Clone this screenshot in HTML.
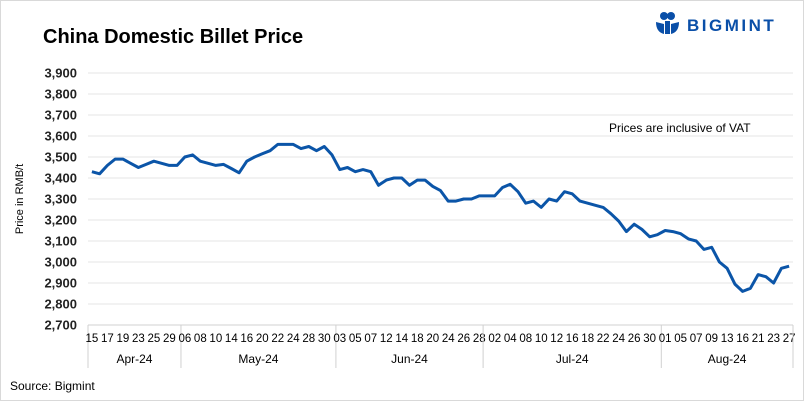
<!DOCTYPE html>
<html><head><meta charset="utf-8">
<style>
body{margin:0;background:#fff;}
#wrap{position:relative;width:802px;height:399px;border:1px solid #d9d9d9;background:#fff;font-family:"Liberation Sans",sans-serif;overflow:hidden;}
svg text{font-family:"Liberation Sans",sans-serif;}
</style></head>
<body>
<div id="wrap">
<svg id="chart" width="802" height="399">
  <text x="42" y="42" font-size="20" font-weight="bold" fill="#000">China Domestic Billet Price</text>
  <g>
    <circle cx="663" cy="15" r="4" fill="#0a4fa8"/>
    <circle cx="670" cy="15" r="4" fill="#0a4fa8"/>
    <path d="M655 21 q0 10 8 12 l0 -10 z M678 21 q0 10 -8 12 l0 -10 z" fill="#0a4fa8"/>
    <rect x="664" y="20" width="5" height="13" fill="#0a4fa8"/>
    <text x="686" y="30" font-size="17" font-weight="bold" fill="#0a4fa8" letter-spacing="2.5">BIGMINT</text>
  </g>
  <text x="608" y="131" font-size="12" fill="#000">Prices are inclusive of VAT</text>
  <text transform="translate(22,198) rotate(-90)" text-anchor="middle" font-size="11" fill="#000">Price in RMB/t</text>
  <g id="grid"></g>
  <g id="yticks"></g>
  <g id="xaxis"></g>
  <path id="line" fill="none" stroke="#0b55a8" stroke-width="3" stroke-linejoin="round"></path>
  <text x="9" y="389" font-size="12" fill="#000">Source: Bigmint</text>
</svg>
</div>
<script>
const months = ["Apr-24","May-24","Jun-24","Jul-24","Aug-24"];
const monthDays = [
 ["15","16","17","18","19","22","23","24","25","26","29","30"],
 ["06","07","08","09","10","13","14","15","16","17","20","21","22","23","24","27","28","29","30","31"],
 ["03","04","05","06","07","11","12","13","14","17","18","19","20","21","24","25","26","27","28"],
 ["01","02","03","04","05","08","09","10","11","12","15","16","17","18","19","22","23","24","25","26","29","30","31"],
 ["01","02","05","06","07","08","09","12","13","14","16","20","21","22","23","26","27"]
];
const prices = [3430,3420,3460,3490,3490,3470,3450,3465,3480,3470,3460,3460,
 3500,3510,3480,3470,3460,3465,3445,3425,3480,3500,3515,3530,3560,3560,3560,3540,3550,3530,3550,3510,
 3440,3450,3430,3440,3430,3365,3390,3400,3400,3365,3390,3390,3360,3340,3290,3290,3300,3300,3315,
 3315,3315,3355,3370,3335,3280,3290,3260,3300,3290,3335,3325,3290,3280,3270,3260,3230,3195,3145,3180,3155,3120,3130,
 3150,3145,3135,3110,3100,3060,3070,3000,2970,2895,2860,2875,2940,2930,2900,2970,2980];
const yTicks = [2700,2800,2900,3000,3100,3200,3300,3400,3500,3600,3700,3800,3900];

const NS="http://www.w3.org/2000/svg";
const X0=87,X1=792,Y0=324,Y1=72,YMIN=2700,YMAX=3900;
const cats=[];months.forEach((m,mi)=>monthDays[mi].forEach(d=>cats.push(d)));
const step=(X1-X0)/cats.length;
const xs=i=>X0+(i+0.5)*step;
const ys=v=>Y0-(v-YMIN)/(YMAX-YMIN)*(Y0-Y1);
function mk(tag,attrs,parent){const e=document.createElementNS(NS,tag);for(const k in attrs)e.setAttribute(k,attrs[k]);parent.appendChild(e);return e;}
const grid=document.getElementById('grid'),yt=document.getElementById('yticks'),xa=document.getElementById('xaxis');
yTicks.forEach(v=>{
  const l=mk('line',{x1:X0,x2:X1,y1:ys(v),y2:ys(v),stroke:v===YMIN?'#d0d0d0':'#e6e6e6','stroke-width':1},grid);
  
  
  const t=mk('text',{x:76,y:ys(v)+4.5,'text-anchor':'end','font-size':13,'font-weight':'bold',fill:'#222'},yt);
  t.textContent=v.toLocaleString('en-US');
  
  
});
let idx=0;
const sep=x=>{const l=mk('line',{x1:x,x2:x,y1:Y0,y2:367,stroke:'#d0d0d0','stroke-width':1},xa);
  
  };
sep(X0);
months.forEach((m,mi)=>{
  const start=idx;
  monthDays[mi].forEach(d=>{
    if(idx%2===0){const t=mk('text',{x:xs(idx),y:341,'text-anchor':'middle','font-size':11.5,fill:'#000'},xa);
      t.textContent=d;
      
      }
    idx++;
  });
  const xa0=X0+start*step,xa1=X0+idx*step;
  sep(xa1);
  const t=mk('text',{x:(xa0+xa1)/2,y:362,'text-anchor':'middle','font-size':12,fill:'#000'},xa);
  t.textContent=m;
  
  
});
document.getElementById('line').setAttribute('d',prices.map((v,i)=>(i?'L':'M')+xs(i).toFixed(1)+' '+ys(v).toFixed(1)).join(' '));
</script>
</body></html>
